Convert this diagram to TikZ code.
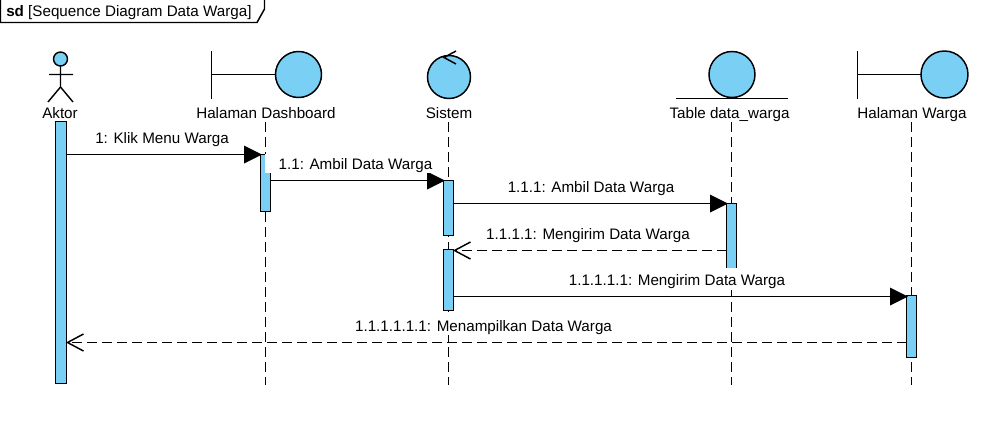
\documentclass[tikz,border=0pt]{standalone}
\usepackage{fontspec}
\setmainfont{Liberation Sans}
\definecolor{umlblue}{HTML}{7ACFF5}
\tikzset{
  x=0.75pt,y=-0.75pt,
  ln/.style={draw=black,line width=1.1pt},
  shapefill/.style={draw=black,line width=1.1pt,fill=umlblue,outer sep=0pt},
  circ/.style={shapefill,circle,inner sep=0pt,minimum size=#1*0.75pt},
  act/.style={shapefill,rectangle,inner sep=0pt,minimum width=7.5pt,minimum height=#1*0.75pt,anchor=north},
  txt/.style={font=\fontsize{11.4pt}{13pt}\selectfont,inner sep=0pt,text=black,anchor=base},
  msg/.style={txt,fill=white,text height=10.5pt,text depth=3pt},
  life/.style={draw=black,line width=1.1pt,dash pattern=on 7.5pt off 3.75pt},
  sync/.style={draw=black,line width=1.1pt},
  rtn/.style={draw=black,line width=1.1pt,dash pattern=on 7.5pt off 3.75pt},
  tip/.style={fill=black},
}
\begin{document}
\begin{tikzpicture}
\useasboundingbox[fill=white] (0,0) rectangle (1007,422);
% frame
\node[txt,anchor=base west,font=\fontsize{11.4pt}{13pt}\selectfont] (frametitle) at (6,16) {\textbf{sd} [Sequence Diagram Data Warga]};
\draw[ln] (0.5,0) -- (0.5,22.5) -- (257,22.5) -- (264.5,9) -- (264.5,0);
% head shapes
\node[circ=14] (head) at (60.5,59) {};
\coordinate (neck) at (60.5,87);
\draw[ln] (head.south) -- (neck) -- (48,102) (neck) -- (73,102) (49,74.5) -- (73,74.5);
\node[circ=46] (c1) at (298.5,74.5) {};
\draw[ln] (211.5,51) -- (211.5,99) (211.5,74.5) -- (c1.west);
\node[circ=43] (c2) at (449,77) {};
\draw[ln] (456,51) -- (444,57.5) -- (456,64);
\node[circ=46] (c3) at (732,74.5) {};
\draw[ln] (676,98.5) -- (788,98.5);
\node[circ=47] (c4) at (944.5,74.5) {};
\draw[ln] (857.5,51) -- (857.5,99) (857.5,74.5) -- (c4.west);
% names
\node[txt] (n0) at (60,118) {Aktor};
\node[txt] (n1) at (266,118) {Halaman Dashboard};
\node[txt] (n2) at (449,118) {Sistem};
\node[txt] (n3) at (729.5,118) {Table data\_warga};
\node[txt] (n4) at (912,118) {Halaman Warga};
% lifelines
\coordinate (t1) at (265.5,122); \coordinate (l1) at (265.5,385);
\coordinate (t2) at (448.5,122); \coordinate (l2) at (448.5,385);
\coordinate (t3) at (731.5,122); \coordinate (l3) at (731.5,385);
\coordinate (t4) at (911.5,122); \coordinate (l4) at (911.5,385);
\draw[life] (t1) -- (l1);
\draw[life] (t2) -- (l2);
\draw[life] (t3) -- (l3);
\draw[life] (t4) -- (l4);
% activations
\node[act=262,minimum width=8.25pt] (a0) at (61,121.5) {};
\node[act=57] (a1) at (265.5,154.5) {};
\node[act=55] (a2) at (448.5,180.5) {};
\node[act=61] (a3) at (448.5,249.5) {};
\node[act=80] (a4) at (731.5,203.5) {};
\node[act=62] (a5) at (911.5,295.5) {};
% connectors
\draw[sync] (a0.east |- 0,154.5) -- (a1.west |- 0,154.5);
\fill[tip] ([xshift=1.5*0.75pt]a1.west |- 0,154.5) -- ++(-18,-9) -- ++(0,18) -- cycle;
\draw[sync] (a1.east |- 0,180.5) -- (a2.west |- 0,180.5);
\fill[tip] ([xshift=1.5*0.75pt]a2.west |- 0,180.5) -- ++(-18,-9) -- ++(0,18) -- cycle;
\draw[sync] (a2.east |- 0,203.5) -- (a4.west |- 0,203.5);
\fill[tip] ([xshift=1.5*0.75pt]a4.west |- 0,203.5) -- ++(-18,-9) -- ++(0,18) -- cycle;
\draw[rtn] (a4.west |- 0,250.5) -- (a3.east |- 0,250.5);
\draw[ln] ([shift={(17,-8.5)}]a3.east |- 0,250.5) -- ([xshift=0.75pt]a3.east |- 0,250.5) -- ++(16,8.5);
\draw[sync] (a3.east |- 0,296.5) -- (a5.west |- 0,296.5);
\fill[tip] ([xshift=1.5*0.75pt]a5.west |- 0,296.5) -- ++(-18,-9) -- ++(0,18) -- cycle;
\draw[rtn] (a5.west |- 0,342.5) -- (a0.east |- 0,342.5);
\draw[ln] ([shift={(17,-8.5)}]a0.east |- 0,342.5) -- ([xshift=0.75pt]a0.east |- 0,342.5) -- ++(16,8.5);
% labels
\node[txt] (m1) at (162,143) {1: Klik Menu Warga};
\node[msg,minimum width=135.75pt,text height=11.5pt] (m2) at (355.5,169) {1.1: Ambil Data Warga};
\node[txt] (m3) at (591,192) {1.1.1: Ambil Data Warga};
\node[txt] (m4) at (588,239) {1.1.1.1: Mengirim Data Warga};
\node[msg,text height=12.75pt,text depth=3.75pt] (m5) at (677,285) {1.1.1.1.1: Mengirim Data Warga};
\node[msg] (m6) at (483.5,331) {1.1.1.1.1.1: Menampilkan Data Warga};
\end{tikzpicture}
\end{document}
